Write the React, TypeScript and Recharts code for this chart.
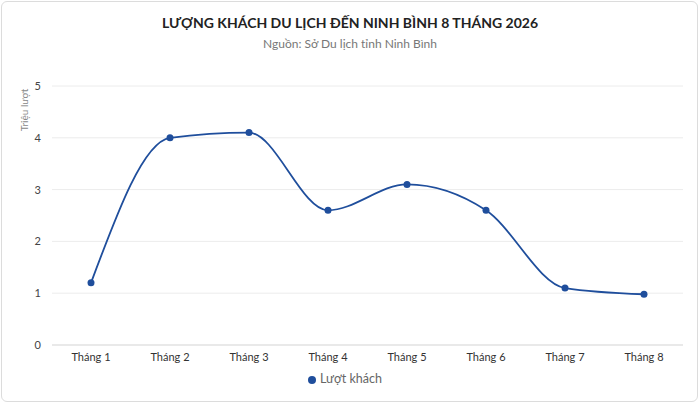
import React from 'react';
import { LineChart, Line, XAxis, YAxis, CartesianGrid, Legend } from 'recharts';

const months = ['Tháng 1', 'Tháng 2', 'Tháng 3', 'Tháng 4', 'Tháng 5', 'Tháng 6', 'Tháng 7', 'Tháng 8'];
const visitors = [1.2, 4.0, 4.1, 2.6, 3.1, 2.6, 1.1, 0.98];
const yTicks = [0, 1, 2, 3, 4, 5];

const data = months.map((m, i) => ({ month: m, visitors: visitors[i] }));

const FONT = 'Lato, "Noto Sans", sans-serif';
const BLUE = '#1f4e9c';

export default function App() {
    return (
        <div style={{ position: 'relative', width: 700, height: 404, fontFamily: FONT, background: '#fff' }}>
            <style>{'body{margin:0}'}</style>
            <div style={{
                position: 'absolute', left: 1, top: 1, width: 697, height: 401, boxSizing: 'border-box',
                border: '1px solid #dcdcdc', borderRadius: 6
            }} />
            <div style={{ position: 'absolute', top: 14, width: 700, textAlign: 'center', fontSize: 14, fontWeight: 700, color: '#222' }}>
                LƯỢNG KHÁCH DU LỊCH ĐẾN NINH BÌNH 8 THÁNG 2026
            </div>
            <div style={{ position: 'absolute', top: 36, width: 700, textAlign: 'center', fontSize: 12, color: '#777' }}>
                Nguồn: Sở Du lịch tỉnh Ninh Bình
            </div>
            <div style={{
                position: 'absolute', left: 24, top: 110, transform: 'translate(-50%, -50%) rotate(-90deg)',
                fontSize: 10, color: '#888', whiteSpace: 'nowrap'
            }}>
                Triệu lượt
            </div>
            <div style={{ position: 'absolute', left: 0, top: 0 }}>
                <LineChart width={700} height={404} data={data} margin={{ top: 86, right: 17, bottom: 5, left: 12 }}>
                    <CartesianGrid vertical={false} stroke="#ececec" />
                    <XAxis
                        dataKey="month"
                        axisLine={{ stroke: '#dddddd' }}
                        tickLine={false}
                        tickMargin={2}
                        padding={{ left: 39, right: 39 }}
                        tick={{ fill: '#333', fontSize: 11 }}
                    />
                    <YAxis
                        width={40}
                        domain={[0, 5]}
                        ticks={yTicks}
                        axisLine={false}
                        tickLine={false}
                        tick={{ fill: '#444', fontSize: 11, dx: -3 }}
                    />
                    <Legend
                        height={24}
                        iconType="circle"
                        iconSize={8}
                        wrapperStyle={{ left: 0, width: 700, top: 371, fontSize: 12.5 }}
                        formatter={(v) => <span style={{ color: '#666' }}>{v}</span>}
                    />
                    <Line
                        type="monotone"
                        dataKey="visitors"
                        name="Lượt khách"
                        stroke={BLUE}
                        strokeWidth={1.8}
                        dot={{ r: 3.5, fill: BLUE, stroke: BLUE, strokeWidth: 0 }}
                        activeDot={false}
                        isAnimationActive={false}
                    />
                </LineChart>
            </div>
        </div>
    );
}
